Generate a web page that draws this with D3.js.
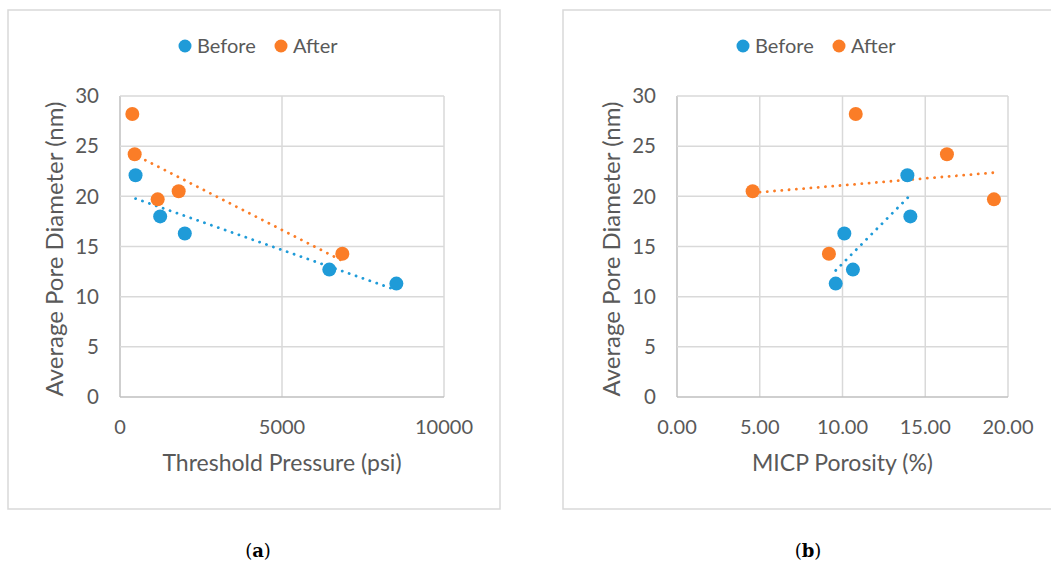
<!DOCTYPE html>
<html>
<head>
<meta charset="utf-8">
<script src="https://cdn.jsdelivr.net/npm/d3@7"></script>
<style>
  body { margin: 0; background: #fff; }
  svg { display: block; }
  text { font-family: Lato, "Open Sans", sans-serif; fill: #595959; }
</style>
</head>
<body>
<svg id="chart" width="1051" height="563"></svg>
<script>
// values
const beforePressure = [480, 1240, 2000, 6460, 8530]
const beforePorosity = [13.92, 14.10, 10.11, 10.63, 9.59]
const beforeDiameter = [22.1, 18.0, 16.3, 12.7, 11.3]

const afterPressure = [380, 453, 1163, 1811, 6862]
const afterPorosity = [10.80, 16.31, 19.15, 4.57, 9.18]
const afterDiameter = [28.2, 24.2, 19.7, 20.5, 14.28]

const yTicks = [0, 5, 10, 15, 20, 25, 30]
const pressureTicks = [0, 5000, 10000]
const porosityTicks = [0, 5, 10, 15, 20]

const blue = "#1f9bd8"
const orange = "#fb7d27"

const svg = d3.select("#chart")

// simple least squares line, the way the spreadsheet trendline works
function linearFit(xs, ys) {
    const mx = d3.mean(xs), my = d3.mean(ys)
    let num = 0, den = 0
    for (let i = 0; i < xs.length; i++) {
        num += (xs[i] - mx) * (ys[i] - my)
        den += (xs[i] - mx) * (xs[i] - mx)
    }
    const slope = num / den
    return x => my + slope * (x - mx)
}

function drawPanel(opts) {
    const g = svg.append("g")

    // outer frame
    g.append("rect")
        .attr("x", opts.frame[0]).attr("y", opts.frame[1])
        .attr("width", opts.frame[2]).attr("height", opts.frame[3])
        .attr("fill", "none").attr("stroke", "#d9d9d9").attr("stroke-width", 1.5)

    const x = d3.scaleLinear().domain(opts.xDomain).range([opts.left, opts.right])
    const y = d3.scaleLinear().domain([0, 30]).range([397, 96])

    // gridlines
    g.selectAll(".gx").data(opts.xTicks).enter().append("line")
        .attr("x1", d => x(d)).attr("x2", d => x(d))
        .attr("y1", y(0)).attr("y2", y(30))
        .attr("stroke", d => d === opts.xTicks[0] ? "#bfbfbf" : "#d9d9d9")
        .attr("stroke-width", 1.5)
    g.selectAll(".gy").data(yTicks).enter().append("line")
        .attr("x1", x.range()[0]).attr("x2", x.range()[1])
        .attr("y1", d => y(d)).attr("y2", d => y(d))
        .attr("stroke", d => d === 0 ? "#bfbfbf" : "#d9d9d9")
        .attr("stroke-width", 1.5)

    // tick labels
    g.selectAll(".ty").data(yTicks).enter().append("text")
        .attr("x", opts.left - 21).attr("y", d => y(d))
        .attr("dy", "0.35em").attr("text-anchor", "end")
        .style("font-size", "20.5px")
        .text(d => d)
    g.selectAll(".tx").data(opts.xTicks).enter().append("text")
        .attr("x", d => x(d)).attr("y", 427)
        .attr("dy", "0.35em").attr("text-anchor", "middle")
        .style("font-size", "20px")
        .text(opts.xFormat)

    // axis titles
    g.append("text")
        .attr("x", (opts.left + opts.right) / 2).attr("y", 463)
        .attr("dy", "0.35em").attr("text-anchor", "middle")
        .style("font-size", "23px")
        .text(opts.xTitle)
    g.append("text")
        .attr("transform", `translate(${opts.yTitleX},249) rotate(-90)`)
        .attr("dy", "0.35em").attr("text-anchor", "middle")
        .style("font-size", "24px")
        .text("Average Pore Diameter (nm)")

    // trendlines then markers
    const series = [
        { xs: opts.beforeX, ys: beforeDiameter, colour: blue },
        { xs: opts.afterX, ys: afterDiameter, colour: orange }
    ]
    for (let s of series) {
        const fit = linearFit(s.xs, s.ys)
        const ext = d3.extent(s.xs)
        g.append("line")
            .attr("x1", x(ext[0])).attr("y1", y(fit(ext[0])))
            .attr("x2", x(ext[1])).attr("y2", y(fit(ext[1])))
            .attr("stroke", s.colour).attr("stroke-width", 2.8)
            .attr("stroke-linecap", "round")
            .attr("stroke-dasharray", "0.1 7.2")
    }
    for (let s of series) {
        g.selectAll(null).data(s.xs.map((v, i) => [v, s.ys[i]])).enter().append("circle")
            .attr("cx", d => x(d[0])).attr("cy", d => y(d[1]))
            .attr("r", 7).attr("fill", s.colour)
    }

    // legend
    const lg = g.append("g").attr("transform", `translate(${opts.legendX},46)`)
    lg.append("circle").attr("cx", 0).attr("cy", 0).attr("r", 6.5).attr("fill", blue)
    lg.append("text").attr("x", 12).attr("dy", "0.35em").style("font-size", "20px").text("Before")
    lg.append("circle").attr("cx", 96).attr("cy", 0).attr("r", 6.5).attr("fill", orange)
    lg.append("text").attr("x", 108).attr("dy", "0.35em").style("font-size", "20px").text("After")

    // caption
    const cap = svg.append("text")
        .attr("x", opts.captionX).attr("y", 551).attr("dy", "0.35em")
        .attr("text-anchor", "middle")
        .style("font-family", "'DejaVu Serif', 'Liberation Serif', serif")
        .style("font-size", "18px").style("fill", "#000")
    cap.append("tspan").text("(")
    cap.append("tspan").style("font-weight", "bold").text(opts.caption)
    cap.append("tspan").text(")")
}

drawPanel({
    frame: [8, 10, 492, 499],
    left: 120, right: 444,
    xDomain: [0, 10000], xTicks: pressureTicks,
    xFormat: d => d,
    xTitle: "Threshold Pressure (psi)",
    yTitleX: 55,
    beforeX: beforePressure, afterX: afterPressure,
    legendX: 185,
    captionX: 258, caption: "a"
})

drawPanel({
    frame: [563, 10, 492, 499],
    left: 677, right: 1008,
    xDomain: [0, 20], xTicks: porosityTicks,
    xFormat: d => d.toFixed(2),
    xTitle: "MICP Porosity (%)",
    yTitleX: 612,
    beforeX: beforePorosity, afterX: afterPorosity,
    legendX: 743,
    captionX: 808, caption: "b"
})
</script>
</body>
</html>
